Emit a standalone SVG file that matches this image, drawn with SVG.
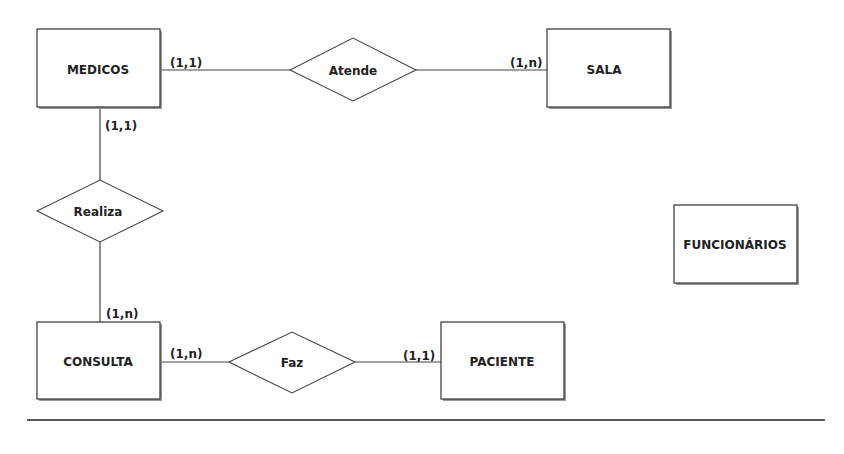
<svg xmlns="http://www.w3.org/2000/svg" width="844" height="454" viewBox="0 0 844 454">
<style>
.ent{fill:#fff;stroke:#333;stroke-width:1.2}
.sh{fill:#999}
.rel{fill:#fff;stroke:#444;stroke-width:1.1}
.ln{stroke:#444;stroke-width:1.2;fill:none}
text{font-family:"DejaVu Sans","Liberation Sans",sans-serif;font-weight:bold;font-size:12px;fill:#222}
.c{text-anchor:middle;dominant-baseline:central}
</style>
<rect width="844" height="454" fill="#fff"/>
<g id="connectors">
<line class="ln" x1="160" y1="70" x2="290" y2="70"/>
<line class="ln" x1="416" y1="70" x2="547" y2="70"/>
<line class="ln" x1="100" y1="107" x2="100" y2="180"/>
<line class="ln" x1="100" y1="242" x2="100" y2="322"/>
<line class="ln" x1="160" y1="362" x2="229" y2="362"/>
<line class="ln" x1="355" y1="362" x2="441" y2="362"/>
<text x="170" y="67">(1,1)</text>
<text x="510" y="67">(1,n)</text>
<text x="105" y="130">(1,1)</text>
<text x="106" y="318">(1,n)</text>
<text x="170" y="358">(1,n)</text>
<text x="403" y="360">(1,1)</text>
</g>
<g id="medicos">
<rect class="sh" x="39" y="31" width="123" height="78"/>
<rect class="ent" x="37" y="29" width="123" height="78"/>
<text class="c" x="98" y="70">MEDICOS</text>
</g>
<g id="atende">
<polygon class="rel" points="290,70 353,38 416,70 353,101"/>
<text class="c" x="353" y="71">Atende</text>
</g>
<g id="sala">
<rect class="sh" x="549" y="31" width="123" height="78"/>
<rect class="ent" x="547" y="29" width="123" height="78"/>
<text class="c" x="604" y="70">SALA</text>
</g>
<g id="realiza">
<polygon class="rel" points="37,211 100,180 163,211 100,242"/>
<text class="c" x="98" y="212">Realiza</text>
</g>
<g id="consulta">
<rect class="sh" x="39" y="324" width="123" height="77"/>
<rect class="ent" x="37" y="322" width="123" height="77"/>
<text class="c" x="98" y="362">CONSULTA</text>
</g>
<g id="faz">
<polygon class="rel" points="229,362 292,332 355,362 292,393"/>
<text class="c" x="292" y="363">Faz</text>
</g>
<g id="paciente">
<rect class="sh" x="443" y="324" width="123" height="77"/>
<rect class="ent" x="441" y="322" width="123" height="77"/>
<text class="c" x="502" y="362">PACIENTE</text>
</g>
<g id="funcionarios">
<rect class="sh" x="676" y="207" width="123" height="78"/>
<rect class="ent" x="674" y="205" width="123" height="78"/>
<text class="c" x="735" y="245">FUNCIONÁRIOS</text>
</g>
<line x1="27" y1="420" x2="825" y2="420" stroke="#222" stroke-width="1.5"/>
</svg>
